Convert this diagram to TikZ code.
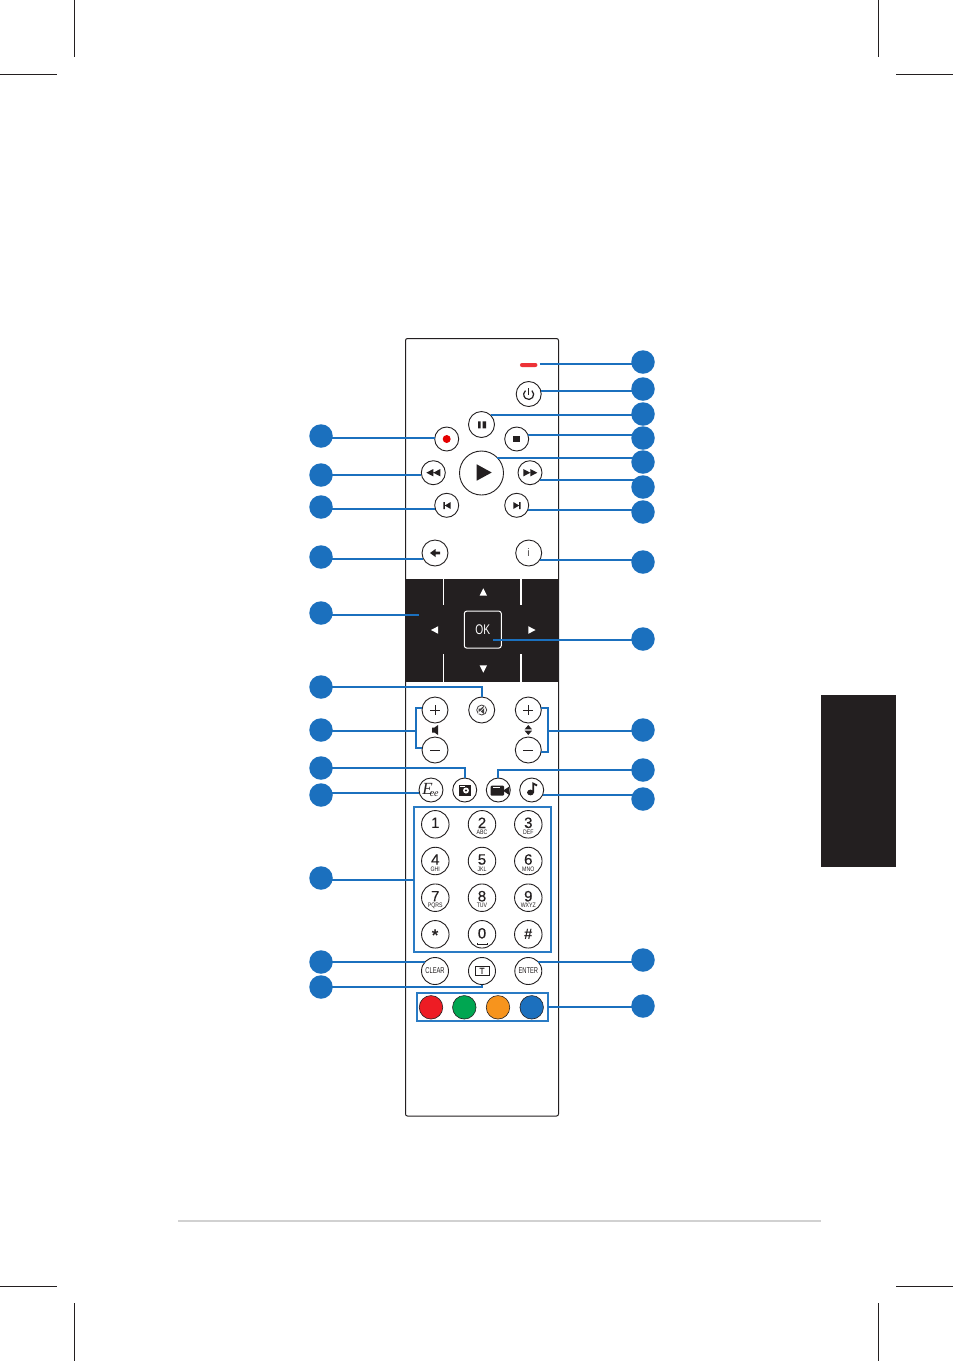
\documentclass[tikz,border=0pt]{standalone}
\usepackage{fontspec}
\setmainfont{Liberation Sans}
\newfontfamily\logofont{Liberation Serif}
\definecolor{ink}{HTML}{231F20}
\definecolor{callout}{HTML}{1B70BE}
\definecolor{linkblue}{HTML}{2A7BC4}
\newcommand{\fs}[1]{\fontsize{#1}{#1}\selectfont}
\tikzset{
  btn/.style={circle,draw=ink,line width=0.9pt,fill=white,inner sep=0pt,outer sep=0pt,minimum size=#1},
  dot/.style={circle,fill=callout,inner sep=0pt,outer sep=0pt,minimum size=23.5pt},
  ln/.style={draw=callout,line width=2pt},
  crop/.style={draw=ink,line width=0.6pt},
  lbl/.style={text=ink,inner sep=0pt,outer sep=0pt},
  icon/.style={fill=ink,draw=none},
  cswatch/.style={circle,draw=ink,line width=0.6pt,inner sep=0pt,outer sep=0pt,minimum size=23.5pt},
  bluebox/.style={draw=linkblue,line width=2pt,inner sep=0pt,outer sep=0pt}
}
\begin{document}
\begin{tikzpicture}[x=1pt,y=-1pt]
\useasboundingbox (0,0) rectangle (953,1361);
\fill[white] (0,0) rectangle (953,1361);
% crop marks
\draw[crop] (74.5,0) -- (74.5,57) (878.5,0) -- (878.5,57) (0,74.5) -- (57,74.5) (896,74.5) -- (953,74.5);
\draw[crop] (74.5,1303) -- (74.5,1361) (878.5,1303) -- (878.5,1361) (0,1286.5) -- (57,1286.5) (896,1286.5) -- (953,1286.5);
% page furniture
\fill[ink] (821,695) rectangle (896,867);
\fill[black!18] (178,1220) rectangle (821,1222);
% remote
\draw[ink,line width=1pt,rounded corners=2pt,fill=white] (405.5,338.5) rectangle (558.5,1116);
\fill[ink] (405,579) rectangle (559,682);
\draw[white,line width=1.6pt] (443.5,579) -- (443.5,605) (521,579) -- (521,605) (443.5,654) -- (443.5,682) (521,654) -- (521,682);
% named parts
\node[fill={rgb,255:red,237;green,50;blue,55},rounded corners=2pt,minimum width=17.5pt,minimum height=4pt,inner sep=0pt,outer sep=0pt] (led) at (528.7,365) {};
\node[btn=25pt] (power) at (528.7,394) {};
\node[btn=26pt] (pause) at (481.5,424.5) {};
\node[btn=24pt] (stop) at (516.7,439) {};
\node[btn=24pt] (rec) at (446.7,439) {};
\node[btn=44pt] (play) at (481.5,473) {};
\node[btn=24pt] (ff) at (530,472.7) {};
\node[btn=24pt] (rew) at (433.3,472.7) {};
\node[btn=24pt] (prev) at (446.7,505.3) {};
\node[btn=24pt] (next) at (516.7,505.3) {};
\node[btn=26pt] (back) at (435,553) {};
\node[btn=26pt] (info) at (528.7,553) {\fs{11}\color{ink!75}i};
\node[draw=white,line width=1pt,rounded corners=2.5pt,fill=ink,minimum width=37pt,minimum height=37pt,inner sep=0pt,outer sep=0pt,text=white] (ok) at (482.8,629.6) {\fs{14}\addfontfeature{FakeStretch=0.73}OK};
\coordinate (cursor) at (419,614.7);
\node[btn=26pt] (mute) at (481.7,710) {};
\node[btn=26pt] (volp) at (435,710) {};
\node[btn=26pt] (volm) at (435,750) {};
\node[btn=26pt] (chp) at (528.3,710) {};
\node[btn=26pt] (chm) at (528.3,750) {};
\node[btn=24pt] (eee) at (431,790) {};
\node[btn=24pt] (cam) at (464.7,790) {};
\node[btn=24pt] (vid) at (498.3,790) {};
\node[btn=24pt] (mus) at (531.7,790) {};
\node[bluebox,minimum width=136.7pt,minimum height=144.7pt] (keys) at (482.65,879.65) {};
\foreach \n/\x/\y in {k1/435.3/824.3,k2/482/824.3,k3/528.3/824.3,k4/435.3/861,k5/482/861,k6/528.3/861,k7/435.3/897.7,k8/482/897.7,k9/528.3/897.7,kstar/435.3/934.3,k0/482/934.3,khash/528.3/934.3}
  \node[btn=27.5pt] (\n) at (\x,\y) {};
\foreach \n/\d/\s in {k1/1/,k2/2/ABC,k3/3/DEF,k4/4/GHI,k5/5/JKL,k6/6/MNO,k7/7/PQRS,k8/8/TUV,k9/9/WXYZ}{
  \node[lbl] (d\n) at ([yshift=1.5pt]\n.center) {\fs{15}\addfontfeature{FakeBold=0.25}\d};
  \node[lbl] (s\n) at ([yshift=-8pt]\n.center) {\fs{6.5}\addfontfeature{FakeStretch=0.8}\s};
}
\node[lbl] (dstar) at ([yshift=-1.5pt]kstar.center) {\fs{17}\textbf{*}};
\node[lbl] (dhash) at (khash.center) {\fs{15}\textbf{\#}};
\node[lbl] (dk0) at ([yshift=1pt]k0.center) {\fs{15}\addfontfeature{FakeBold=0.25}0};
\draw[ink,line width=0.8pt] ([xshift=-5pt,yshift=-9pt]k0.center) -- ++(0,1.5) -- ++(10,0) -- ++(0,-1.5);
\node[btn=27pt] (clear) at (435,971) {\fs{8.5}\addfontfeature{FakeStretch=0.68}\color{ink}CLEAR};
\node[btn=27pt] (tbtn) at (482,971) {};
\node[btn=27pt] (enter) at (528.3,971) {\fs{8.5}\addfontfeature{FakeStretch=0.68}\color{ink}ENTER};
\node[bluebox,minimum width=131.3pt,minimum height=28pt] (colors) at (482.65,1006.7) {};
\node[cswatch,fill={rgb,255:red,237;green,28;blue,36}] (cred) at (431,1007.3) {};
\node[cswatch,fill={rgb,255:red,0;green,166;blue,81}] (cgreen) at (464.3,1007.3) {};
\node[cswatch,fill={rgb,255:red,247;green,148;blue,29}] (corange) at (498,1007.3) {};
\node[cswatch,fill={rgb,255:red,28;green,112;blue,190}] (cblue) at (531.7,1007.3) {};
% icons
\draw[ink,line width=1.2pt] (531.9,390.6) arc[start angle=50,end angle=-230,x radius=5,y radius=-5];
\draw[ink,line width=1.2pt] (528.7,388) -- (528.7,395);
\fill[ink] (478,421.3) rectangle (480.7,428.3) (482.7,421.3) rectangle (486,428.3);
\fill[ink] (513.4,435.7) rectangle (520.1,442.4);
\fill[red!90!black] (446.7,439) circle[radius=4];
\fill[ink] (476.7,464.3) -- (491.7,472.5) -- (476.7,480.7) -- cycle;
\fill[ink] (523.3,469) -- (530.3,472.7) -- (523.3,476.4) -- cycle (530.3,469) -- (537.3,472.7) -- (530.3,476.4) -- cycle;
\fill[ink] (440.3,469) -- (433.3,472.7) -- (440.3,476.4) -- cycle (433.3,469) -- (426.3,472.7) -- (433.3,476.4) -- cycle;
\fill[ink] (443.3,502) rectangle (444.8,509) (450.7,502) -- (444.8,505.5) -- (450.7,509) -- cycle;
\fill[ink] (513.3,502) -- (519.2,505.5) -- (513.3,509) -- cycle (519.2,502) rectangle (520.7,509);
\fill[ink] (430,553) -- (435.5,549) -- (435.5,551.7) -- (440,551.7) -- (440,554.3) -- (435.5,554.3) -- (435.5,557) -- cycle;
\fill[white] (483.3,588.3) -- (487,595.7) -- (479.6,595.7) -- cycle;
\fill[white] (483.3,672.7) -- (487,665.3) -- (479.6,665.3) -- cycle;
\fill[white] (431,630) -- (438.2,626.2) -- (438.2,633.8) -- cycle;
\fill[white] (535.5,630) -- (528.3,626.2) -- (528.3,633.8) -- cycle;
% mute
\draw[ink!85,line width=0.8pt] (481.7,710) circle[radius=5];
\fill[ink!85] (478.7,708.5) -- (480.7,708.5) -- (484,705.8) -- (484,714) -- (480.7,711.5) -- (478.7,711.5) -- cycle;
\draw[white,line width=0.6pt] (477.5,714.5) -- (486,705.5);
% vol/ch signs
\draw[ink,line width=0.9pt] (430,710) -- (440,710) (435,705) -- (435,715) (430,750) -- (440,750);
\draw[ink,line width=0.9pt] (523.3,710) -- (533.3,710) (528.3,705) -- (528.3,715) (523.3,750) -- (533.3,750);
\fill[ink] (432,727.5) -- (434.5,727.5) -- (438,725) -- (438,735) -- (434.5,732.5) -- (432,732.5) -- cycle;
\fill[ink] (528.3,725) -- (532,729.3) -- (524.6,729.3) -- cycle (524.6,730.7) -- (532,730.7) -- (528.3,735) -- cycle;
% eee
\node[lbl] (eeelogo) at (430.5,789.5) {\logofont\fs{17}\itshape E\kern-3pt\raisebox{-2pt}{\fs{10}ee}};
% camera
\fill[ink] (458.5,785) rectangle (471,795.5);
\fill[white] (459.5,786) rectangle (465,787.3);
\fill[white] (466,790.5) circle[radius=3];
\fill[ink] (466,790.5) circle[radius=1.2];
% video
\fill[ink,rounded corners=1pt] (490.7,785.7) rectangle (504,795.7);
\fill[ink] (503,790.7) -- (509.3,786.5) -- (509.3,795) -- cycle;
\fill[white] (492.5,787.2) rectangle (500,788.2);
% music
\fill[ink] (530.5,792.5) ellipse[x radius=3.4,y radius=2.9];
\draw[ink,line width=1.8pt] (533.2,792.5) -- (533.2,783.5) -- (537,785.5);
% T
\draw[ink,line width=0.9pt] (475,966.7) rectangle (489,975);
\node[lbl] (tlabel) at (482,970.9) {\fs{8.5}\addfontfeature{FakeBold=0.8}T};
% callout dots, right
\foreach \n/\y in {dR1/362,dR2/389,dR3/414,dR4/438,dR5/462,dR6/487,dR7/512,dR8/562,dR9/639,dR10/730,dR11/770,dR12/799,dR13/960,dR14/1006}
  \coordinate (\n) at (643,\y);
\foreach \n/\y in {dL1/436,dL2/475,dL3/507,dL4/557,dL5/613,dL6/687,dL7/730,dL8/768,dL9/795,dL10/878,dL11/962,dL12/987}
  \coordinate (\n) at (321,\y);
\coordinate (brR) at (548,730.5);
\coordinate (brL) at (415.7,730.5);
% connectors
\draw[ln] ([xshift=2.5pt,yshift=1pt]led.east) -- ([xshift=2.5pt,yshift=1pt]led.east -| dR1);
\draw[ln] (power.14) -- (power.14 -| dR2);
\draw[ln] (pause.45) -- (pause.45 -| dR3);
\draw[ln] (stop.18) -- (stop.18 -| dR4);
\draw[ln] (play.44) -- (play.44 -| dR5);
\draw[ln] (ff.-36) -- (ff.-36 -| dR6);
\draw[ln] (next.-21) -- (next.-21 -| dR7);
\draw[ln] (info.-32) -- (info.-32 -| dR8);
\draw[ln] ([xshift=10.5pt,yshift=-10pt]ok.center) -- ([xshift=10.5pt,yshift=-10pt]ok.center -| dR9);
\draw[ln] (chp.10) -| (brR) |- (chm.-10);
\draw[ln] (brR) -- (brR -| dR10);
\draw[ln] (vid.north) |- (dR11);
\draw[ln] (mus.-23) -- (mus.-23 -| dR12);
\draw[ln] (enter.43) -- (enter.43 -| dR13);
\draw[ln] (colors.east) -- (colors.east -| dR14);
\draw[ln] (rec.173) -- (rec.173 -| dL1);
\draw[ln] (rew.190) -- (rew.190 -| dL2);
\draw[ln] (prev.196) -- (prev.196 -| dL3);
\draw[ln] (back.207) -- (back.207 -| dL4);
\draw[ln] (cursor) -- (cursor -| dL5);
\draw[ln] (dL6) -| (mute.north);
\draw[ln] (volp.170) -| (brL) |- (volm.170);
\draw[ln] (brL) -- (brL -| dL7);
\draw[ln] (dL8) -| (cam.north);
\draw[ln] (eee.196) -- (eee.196 -| dL9);
\draw[ln] (keys.west) -- (keys.west -| dL10);
\draw[ln] (clear.136) -- (clear.136 -| dL11);
\draw[ln] (dL12) -| (tbtn.south);
% dots on top
\foreach \n in {dR1,dR2,dR3,dR4,dR5,dR6,dR7,dR8,dR9,dR10,dR11,dR12,dR13,dR14,dL1,dL2,dL3,dL4,dL5,dL6,dL7,dL8,dL9,dL10,dL11,dL12}
  \node[dot] at (\n) {};
\end{tikzpicture}
\end{document}
